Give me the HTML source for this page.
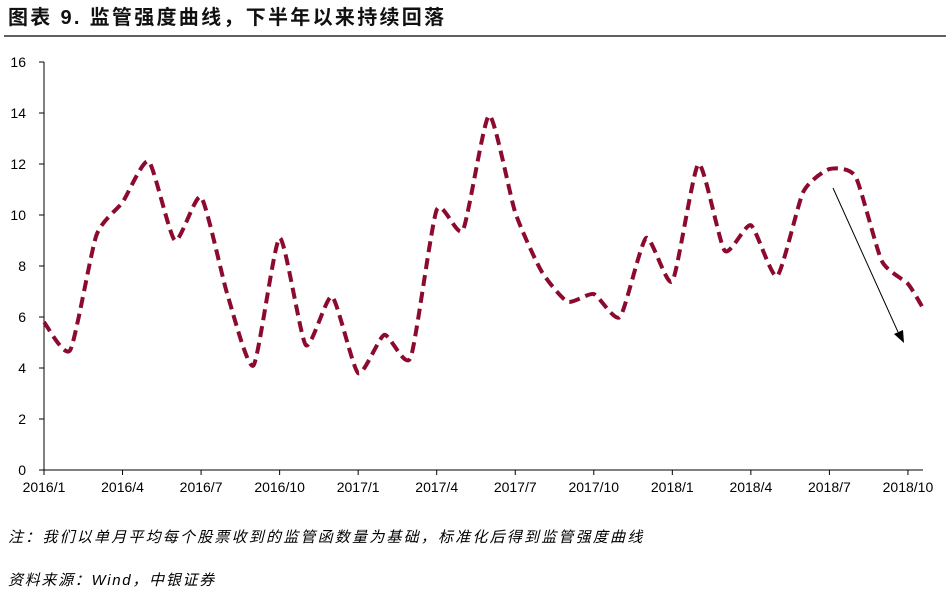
<!DOCTYPE html>
<html><head><meta charset="utf-8"><style>
body{margin:0;background:#fff;width:951px;height:591px;overflow:hidden;font-family:"Liberation Sans","Noto Sans CJK SC",sans-serif}
</style></head><body>
<svg width="951" height="591" xmlns="http://www.w3.org/2000/svg" font-family="Liberation Sans, Noto Sans CJK SC, sans-serif">
<text x="8" y="24" font-size="20" font-weight="bold" fill="#111" letter-spacing="2.3">图表 9. 监管强度曲线，下半年以来持续回落</text>
<line x1="4" y1="36" x2="946" y2="36" stroke="#000" stroke-width="1.3"/>
<g font-size="14" fill="#000" text-anchor="end">
<text x="26" y="475">0</text><text x="26" y="424">2</text><text x="26" y="373">4</text><text x="26" y="322">6</text><text x="26" y="271">8</text><text x="26" y="220">10</text><text x="26" y="169">12</text><text x="26" y="118">14</text><text x="26" y="67">16</text>
</g>
<g stroke="#000" stroke-width="1">
<line x1="44" y1="62" x2="44" y2="470"/>
<line x1="44" y1="470" x2="923" y2="470"/>
<line x1="39" y1="470" x2="44" y2="470"/><line x1="39" y1="419" x2="44" y2="419"/><line x1="39" y1="368" x2="44" y2="368"/><line x1="39" y1="317" x2="44" y2="317"/><line x1="39" y1="266" x2="44" y2="266"/><line x1="39" y1="215" x2="44" y2="215"/><line x1="39" y1="164" x2="44" y2="164"/><line x1="39" y1="113" x2="44" y2="113"/><line x1="39" y1="62" x2="44" y2="62"/>
<g id="xt"></g>
</g>
<g id="xl" font-size="14" text-anchor="middle"></g>
<path id="ln" fill="none" stroke="#8B0A2E" stroke-width="4" stroke-dasharray="11,6" stroke-linecap="butt"/>
<line x1="833" y1="188" x2="898" y2="332" stroke="#000" stroke-width="1"/>
<polygon points="904,343 894,334 903,330" fill="#000"/>
<text x="8" y="542" font-size="15" font-style="italic" letter-spacing="2.2">注：我们以单月平均每个股票收到的监管函数量为基础，标准化后得到监管强度曲线</text>
<text x="8" y="585" font-size="15" font-style="italic" letter-spacing="1.7">资料来源：Wind，中银证券</text>
</svg>
<script>
var v=[5.8,4.7,9.2,10.5,12.1,9.0,10.7,6.9,4.1,9.1,4.9,6.8,3.8,5.3,4.4,10.2,9.4,13.9,10.1,7.8,6.6,6.9,6.0,9.1,7.4,12.0,8.6,9.6,7.6,10.9,11.8,11.5,8.2,7.3,6.35];
var p=v.map(function(y,i){var x=44+i*26.18;if(i==v.length-1)x=923;return [x,470-y*25.5];});
var d="M"+p[0][0]+","+p[0][1];
for(var i=0;i<p.length-1;i++){var a=p[Math.max(i-1,0)],b=p[i],c=p[i+1],e=p[Math.min(i+2,p.length-1)],t=0.1;
d+=" C"+(b[0]+(c[0]-a[0])*t)+","+(b[1]+(c[1]-a[1])*t)+" "+(c[0]-(e[0]-b[0])*t)+","+(c[1]-(e[1]-b[1])*t)+" "+c[0]+","+c[1];}
document.getElementById("ln").setAttribute("d",d);
var lab=["2016/1","2016/4","2016/7","2016/10","2017/1","2017/4","2017/7","2017/10","2018/1","2018/4","2018/7","2018/10"];
var xt="",xl="";
lab.forEach(function(l,i){var x=44+i*3*26.18;xt+='<line x1="'+x+'" y1="470" x2="'+x+'" y2="475"/>';xl+='<text x="'+x+'" y="492">'+l+'</text>';});
document.getElementById("xt").innerHTML=xt;document.getElementById("xl").innerHTML=xl;
</script>
</body></html>
